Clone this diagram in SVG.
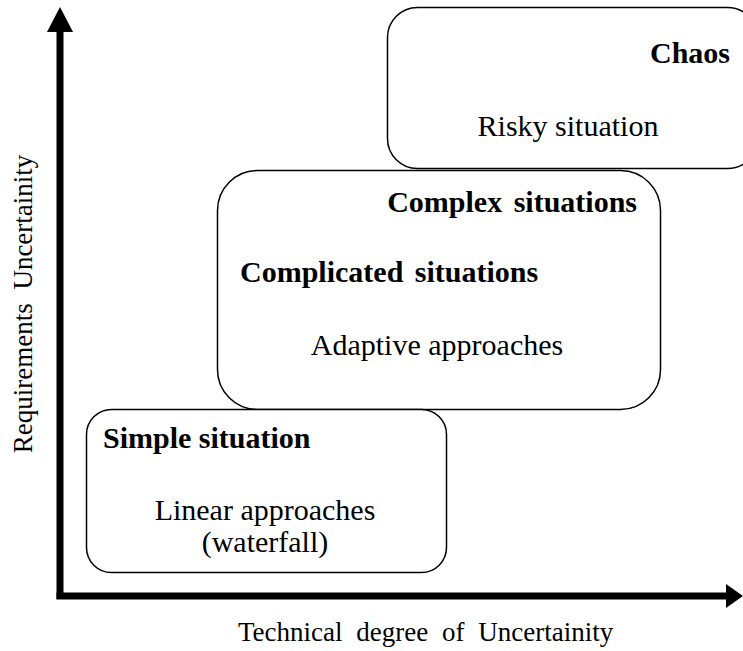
<svg xmlns="http://www.w3.org/2000/svg" width="743" height="651" viewBox="0 0 743 651">
<style>
.box{fill:#fff;stroke:#000;stroke-width:1.5}
.t{font-family:"Liberation Serif","Times New Roman",serif;font-size:30px;fill:#000}
.b{font-weight:bold}
.a{font-family:"Liberation Serif","Times New Roman",serif;font-size:27px;fill:#000;word-spacing:7px}
.ax{stroke:#000;stroke-width:7;fill:none}
</style>
<rect width="743" height="651" fill="#fff"/>
<g id="chaos">
<rect class="box" x="387.5" y="7.5" width="370" height="161" rx="30"/>
<text class="t b" x="730" y="63" text-anchor="end">Chaos</text>
<text class="t" x="568" y="136" text-anchor="middle">Risky situation</text>
</g>
<g id="complex">
<rect class="box" x="217.5" y="170.5" width="443" height="239" rx="40"/>
<text class="t b" x="637" y="212" text-anchor="end" style="word-spacing:4px">Complex situations</text>
<text class="t b" x="240" y="282" style="word-spacing:4px">Complicated situations</text>
<text class="t" x="437" y="355" text-anchor="middle">Adaptive approaches</text>
</g>
<g id="simple">
<rect class="box" x="86.5" y="409.5" width="360" height="163" rx="25"/>
<text class="t b" x="103" y="448">Simple situation</text>
<text class="t" x="265" y="520" text-anchor="middle">Linear approaches</text>
<text class="t" x="265" y="552" text-anchor="middle">(waterfall)</text>
</g>
<g id="connectors">
<line class="ax" x1="60" y1="30" x2="60" y2="599"/>
<line class="ax" x1="56.5" y1="596" x2="727" y2="596"/>
<polygon points="60,7 47,32 73,32" fill="#000"/>
<polygon points="743,596 726,584 726,608" fill="#000"/>
</g>
<text class="a" x="238" y="641">Technical degree of Uncertainity</text>
<text class="a" transform="translate(32,304) rotate(-90)" text-anchor="middle">Requirements Uncertainity</text>
</svg>
